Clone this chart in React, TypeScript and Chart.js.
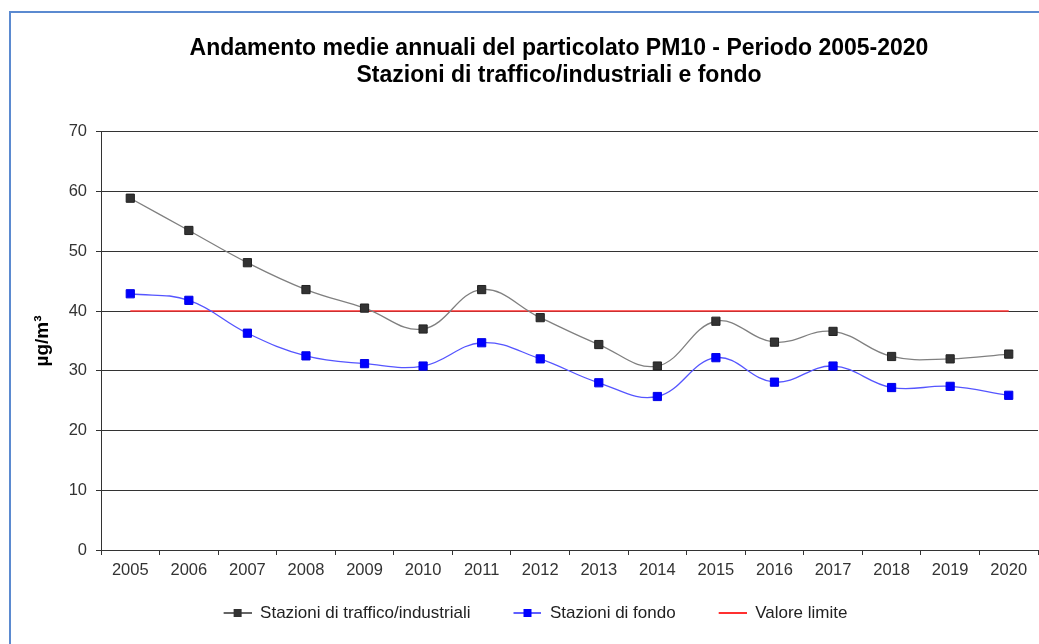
import React, { useEffect, useRef } from 'react';
import { Chart, registerables } from 'chart.js';

Chart.register(...registerables);

const FONT = '"Liberation Sans", Arial, Helvetica, sans-serif';

const years = ['2005', '2006', '2007', '2008', '2009', '2010', '2011', '2012', '2013', '2014', '2015', '2016', '2017', '2018', '2019', '2020'];
const trafficoValues = [58.9, 53.5, 48.1, 43.6, 40.5, 37.0, 43.6, 38.9, 34.4, 30.8, 38.3, 34.8, 36.6, 32.4, 32.0, 32.8];
const fondoValues = [42.9, 41.8, 36.3, 32.5, 31.2, 30.8, 34.7, 32.0, 28.0, 25.7, 32.2, 28.1, 30.8, 27.2, 27.4, 25.9];
const limiteValues = [40, 40, 40, 40, 40, 40, 40, 40, 40, 40, 40, 40, 40, 40, 40, 40];
const seriesNames = ['Stazioni di traffico/industriali', 'Stazioni di fondo', 'Valore limite'];
const titleLines = [
  'Andamento medie annuali del particolato PM10 - Periodo 2005-2020',
  'Stazioni di traffico/industriali e fondo',
];
const yAxisTitle = 'µg/m³';
const yMin = 0;
const yMax = 70;
const yStep = 10;

function makeIcon(lineColor: string, markerColor: string | null, lineWidth: number) {
  const c = document.createElement('canvas');
  c.width = 61;
  c.height = 12;
  const ctx = c.getContext('2d')!;
  ctx.strokeStyle = lineColor;
  ctx.lineWidth = lineWidth;
  ctx.beginPath();
  ctx.moveTo(33, 6);
  ctx.lineTo(61, 6);
  ctx.stroke();
  if (markerColor) {
    ctx.fillStyle = markerColor;
    ctx.fillRect(43, 2, 8, 8);
  }
  return c;
}

// shifts the (plot-area wide) title block slightly left, as in the original
const titleShiftPlugin = {
  id: 'titleShift',
  afterLayout(chart: any) {
    const tb = chart.titleBlock;
    if (tb) {
      tb.left -= 10.5;
      tb.right -= 10.5;
    }
  },
};

export default function App() {
  const canvasRef = useRef<HTMLCanvasElement | null>(null);

  useEffect(() => {
    if (!canvasRef.current) return;
    const icons = [
      makeIcon('#333333', '#333333', 1.5),
      makeIcon('#2b2bff', '#0000ff', 1.5),
      makeIcon('#ff3030', null, 2),
    ];
    const chart = new Chart(canvasRef.current, {
      type: 'line',
      data: {
        labels: years,
        datasets: [
          {
            label: seriesNames[0],
            data: trafficoValues,
            borderColor: '#808080',
            borderWidth: 1.3,
            pointStyle: 'rect',
            pointRadius: 5.8,
            pointBackgroundColor: '#333333',
            pointBorderColor: '#222222',
            pointBorderWidth: 1,
            tension: 0.4,
          },
          {
            label: seriesNames[1],
            data: fondoValues,
            borderColor: '#5555ff',
            borderWidth: 1.3,
            pointStyle: 'rect',
            pointRadius: 5.8,
            pointBackgroundColor: '#0000ff',
            pointBorderColor: '#0000e6',
            pointBorderWidth: 1,
            tension: 0.4,
          },
          {
            label: seriesNames[2],
            data: limiteValues,
            borderColor: '#ff3030',
            borderWidth: 1.5,
            pointRadius: 0,
            tension: 0,
          },
        ],
      },
      options: {
        responsive: false,
        animation: false,
        devicePixelRatio: 1,
        layout: { autoPadding: false, padding: { left: 0, right: 1, top: 0, bottom: 12.5 } },
        plugins: {
          title: {
            display: true,
            text: titleLines,
            fullSize: false,
            color: '#000000',
            font: { family: FONT, size: 23, weight: 'bold', lineHeight: 1.15 },
            padding: { top: 35.75, bottom: 43.25 },
          },
          legend: {
            position: 'bottom',
            labels: {
              usePointStyle: true,
              pointStyleWidth: 61,
              padding: 10,
              color: '#222222',
              font: { family: FONT, size: 17 },
              generateLabels: (ch: any) => {
                const items = Chart.defaults.plugins.legend.labels.generateLabels(ch);
                return items.map((it: any, i: number) => ({ ...it, pointStyle: icons[i] }));
              },
            },
          },
          tooltip: { enabled: false },
        },
        scales: {
          x: {
            offset: true,
            grid: { offset: true, drawOnChartArea: false, drawTicks: true, tickLength: 5, color: '#333333', lineWidth: 1 },
            border: { display: true, color: '#333333', width: 1 },
            ticks: { color: '#333333', font: { family: FONT, size: 16.5 }, padding: 6, maxRotation: 0, autoSkip: false },
            afterFit: (s: any) => {
              s.height = 44.5;
              s.paddingLeft = 0;
              s.paddingRight = 0;
            },
          },
          y: {
            min: yMin,
            max: yMax,
            ticks: { stepSize: yStep, color: '#333333', font: { family: FONT, size: 16.5 }, padding: 9 },
            grid: { color: '#333333', lineWidth: 1, tickLength: 5 },
            border: { display: true, color: '#333333', width: 1 },
            title: {
              display: true,
              text: yAxisTitle,
              color: '#000000',
              font: { family: FONT, size: 19, weight: 'bold' },
              padding: { top: 31, bottom: 0 },
            },
            afterFit: (s: any) => { s.width = 101; },
          },
        },
      } as any,
      plugins: [titleShiftPlugin],
    });
    return () => chart.destroy();
  }, []);

  return (
    <div style={{ position: 'fixed', left: 0, top: 0, width: 1039, height: 644, overflow: 'hidden', background: '#ffffff' }}>
      <div style={{ position: 'absolute', left: 9, top: 11, width: 1100, height: 700, border: '2px solid #5b8ad0', boxSizing: 'border-box' }} />
      <canvas ref={canvasRef} width={1039} height={644} style={{ position: 'absolute', left: 0, top: 0, width: 1039, height: 644 }} />
    </div>
  );
}
